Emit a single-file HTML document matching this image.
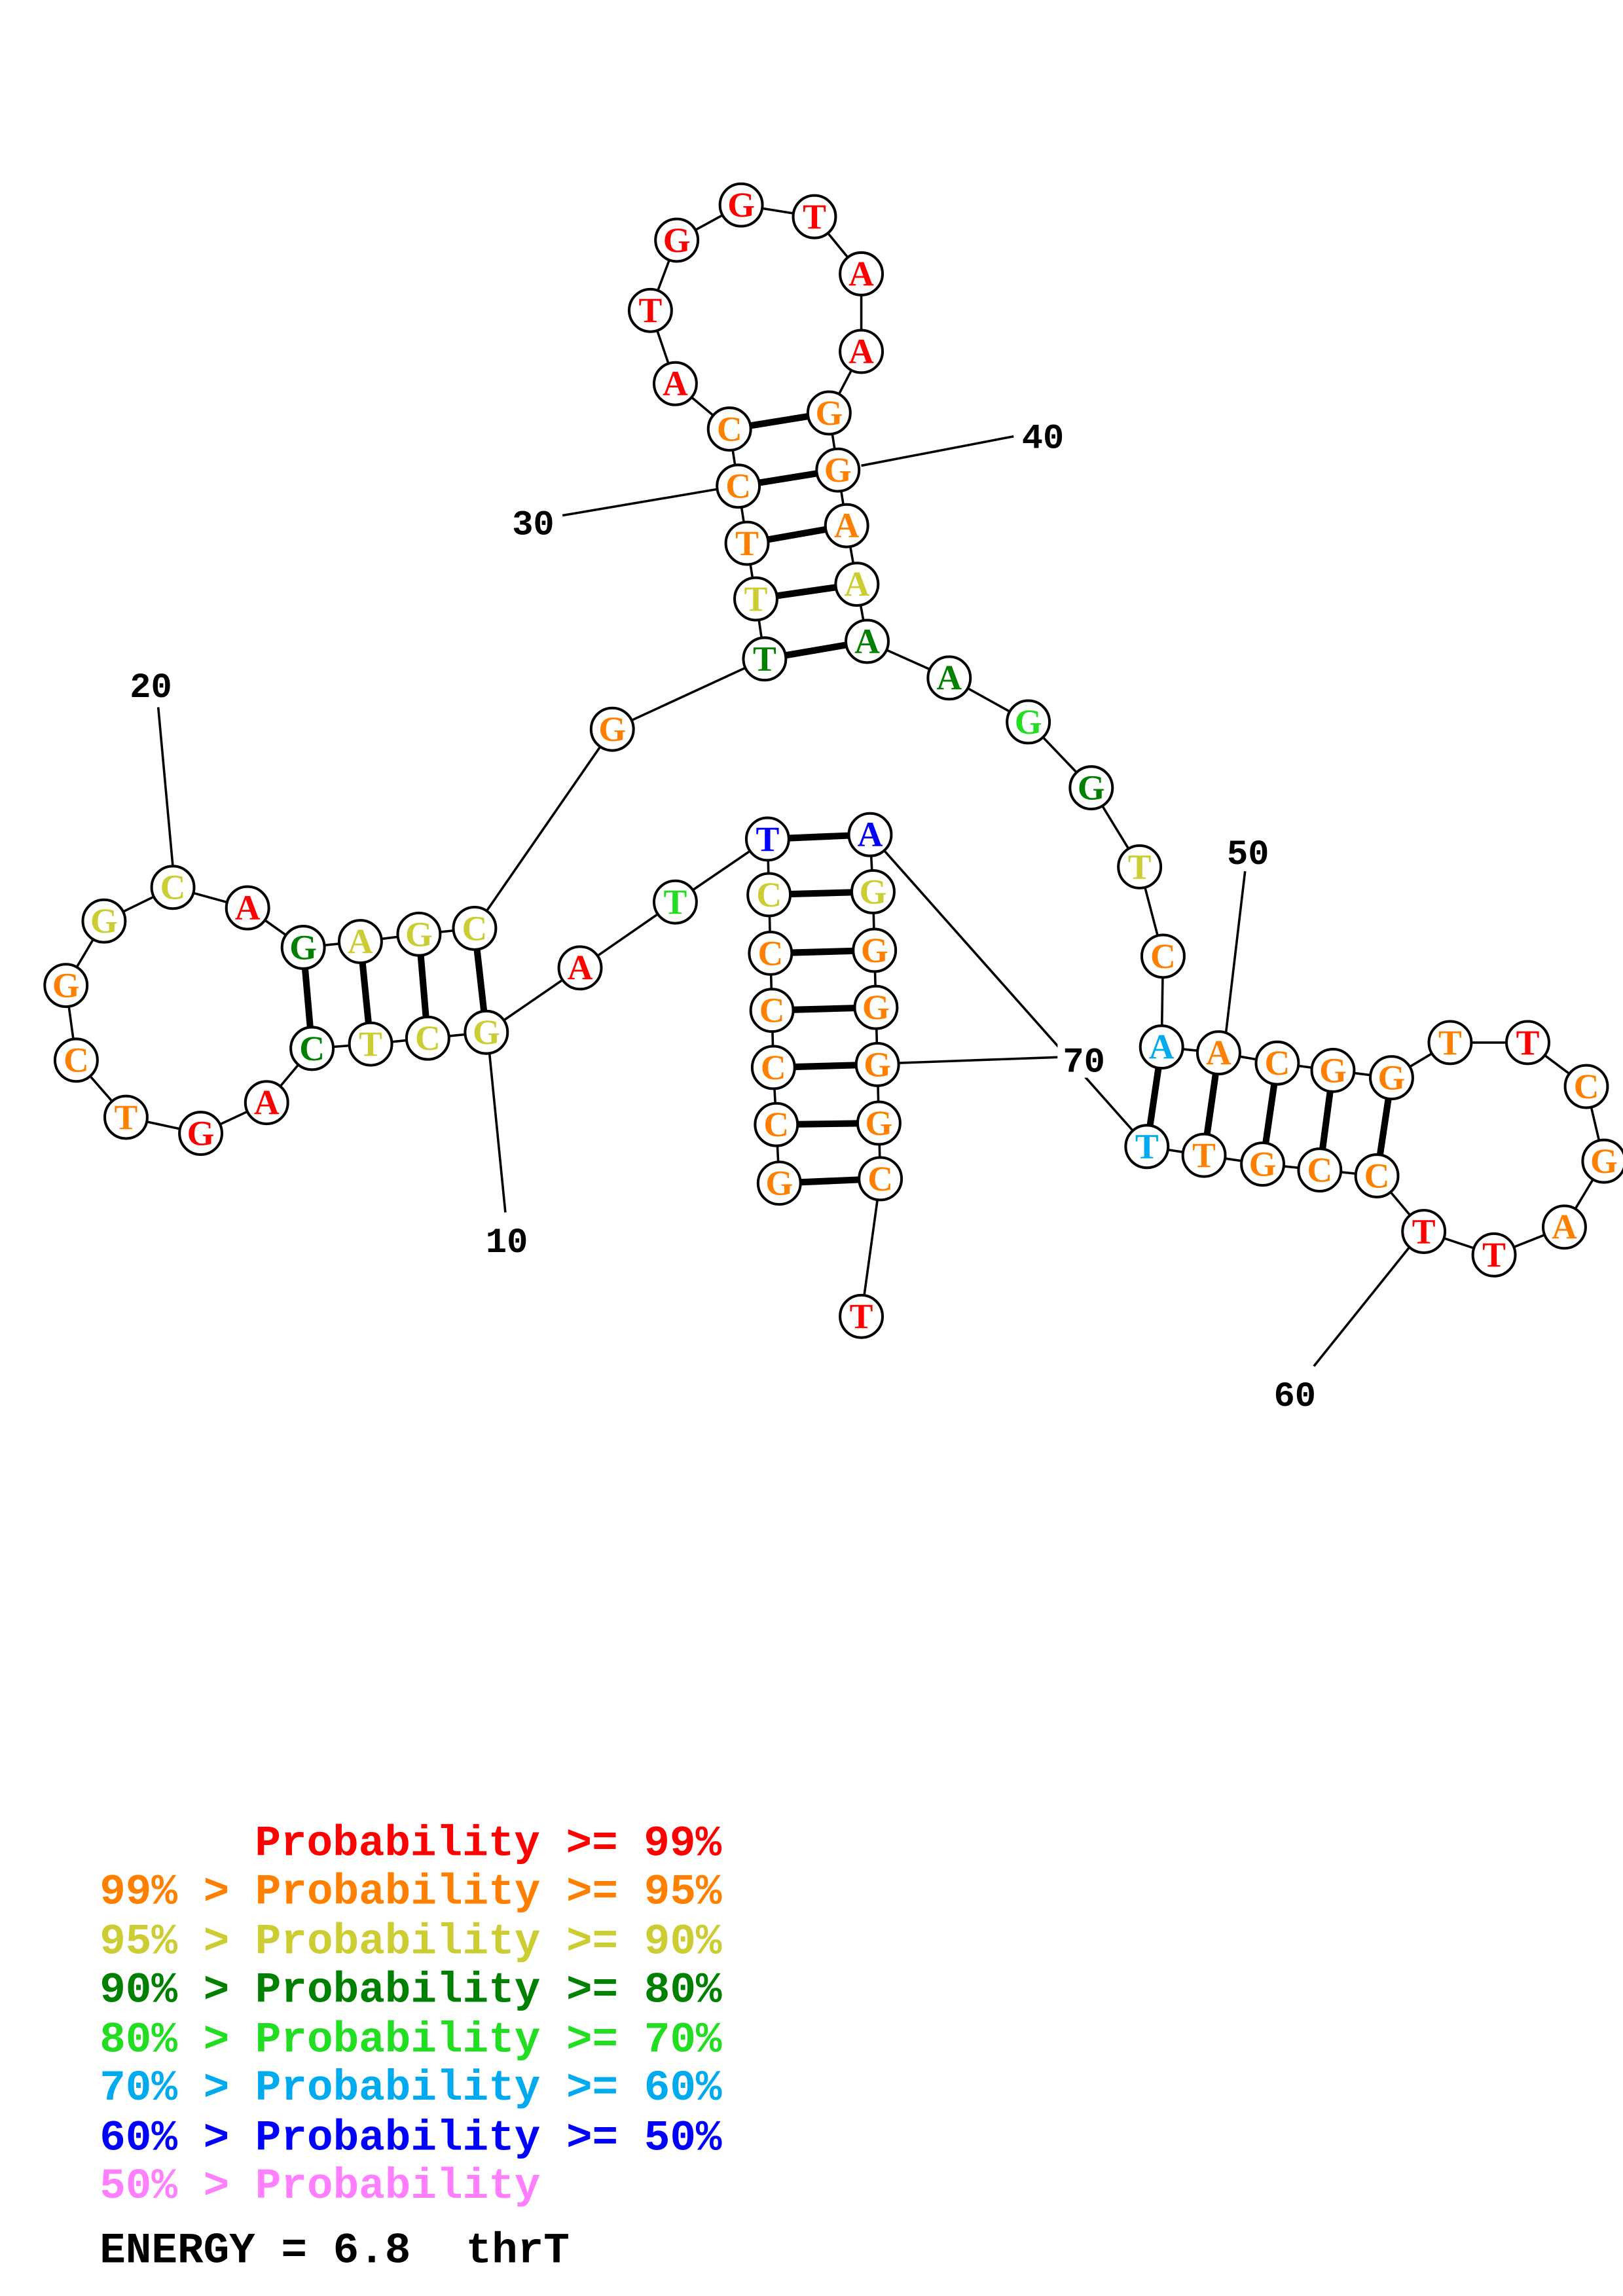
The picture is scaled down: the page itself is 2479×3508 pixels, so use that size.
<!DOCTYPE html>
<html><head><meta charset="utf-8"><style>html,body{margin:0;padding:0;background:#fff}svg{display:block}.pre{white-space:pre}</style></head>
<body>
<svg xmlns="http://www.w3.org/2000/svg" width="2479" height="3508" viewBox="0 0 1108 1568">
<rect width="1108" height="1568" fill="#fff"/>
<g stroke="#000" stroke-width="1.6" fill="none">
<polyline points="532,808 530,768 528,729 527,690 526,651 525,611 524,573 461,616 396,661 332,705 292,709 253,713 213,716 182,753 137,774 86,763 52,724 45,673 71,629 118,606 169,620 207,647 246,643 286,638 324,634 418,498 522,450 516,409 510,371 504,332 498,293 461,262 444,212 462,164 506,140 556,148 588,187 588,240 566,282 572,321 578,359 585,399 592,438 648,463 702,493 745,538 778,592 794,653 793,715 832,719 872,726 910,731 950,736 990,712 1043,712 1083,742 1095,793 1068,838 1020,857 972,841 940,803 901,799 862,795 822,789 783,783 594,570 596,609 597,649 598,688 599,727 600,767 601,805 588,899"/>
<line x1="334" y1="718" x2="345" y2="828"/>
<line x1="108" y1="483" x2="118" y2="592"/>
<line x1="384" y1="352" x2="490" y2="334"/>
<line x1="588" y1="318" x2="692" y2="298"/>
<line x1="850" y1="595" x2="837" y2="705"/>
<line x1="897" y1="933" x2="962" y2="852"/>
<line x1="612" y1="726" x2="722" y2="722"/>
</g>
<g stroke="#000" stroke-width="4.5">
<line x1="207" y1="647" x2="213" y2="716"/><line x1="246" y1="643" x2="253" y2="713"/><line x1="286" y1="638" x2="292" y2="709"/><line x1="324" y1="634" x2="332" y2="705"/>
<line x1="522" y1="450" x2="592" y2="438"/><line x1="516" y1="409" x2="585" y2="399"/><line x1="510" y1="371" x2="578" y2="359"/><line x1="504" y1="332" x2="572" y2="321"/><line x1="498" y1="293" x2="566" y2="282"/>
<line x1="793" y1="715" x2="783" y2="783"/><line x1="832" y1="719" x2="822" y2="789"/><line x1="872" y1="726" x2="862" y2="795"/><line x1="910" y1="731" x2="901" y2="799"/><line x1="950" y1="736" x2="940" y2="803"/>
<line x1="524" y1="573" x2="594" y2="570"/><line x1="525" y1="611" x2="596" y2="609"/><line x1="526" y1="651" x2="597" y2="649"/><line x1="527" y1="690" x2="598" y2="688"/><line x1="528" y1="729" x2="599" y2="727"/><line x1="530" y1="768" x2="600" y2="767"/><line x1="532" y1="808" x2="601" y2="805"/>
</g>
<rect x="722" y="708" width="38" height="28" fill="#fff"/>
<g font-family="Liberation Mono, monospace" font-weight="bold" font-size="24" fill="#000" text-anchor="middle">
<text x="346" y="855">10</text><text x="103" y="476">20</text><text x="364" y="365">30</text><text x="712" y="306">40</text><text x="852" y="590">50</text><text x="884" y="960">60</text><text x="740" y="732">70</text>
</g>
<g font-family="Liberation Serif, serif" font-weight="bold" font-size="24" text-anchor="middle">
<g stroke="#000" stroke-width="1.8" fill="#fff">
<circle cx="207" cy="647" r="14.5"/><circle cx="246" cy="643" r="14.5"/><circle cx="286" cy="638" r="14.5"/><circle cx="324" cy="634" r="14.5"/>
<circle cx="213" cy="716" r="14.5"/><circle cx="253" cy="713" r="14.5"/><circle cx="292" cy="709" r="14.5"/><circle cx="332" cy="705" r="14.5"/>
<circle cx="169" cy="620" r="14.5"/><circle cx="118" cy="606" r="14.5"/><circle cx="71" cy="629" r="14.5"/><circle cx="45" cy="673" r="14.5"/><circle cx="52" cy="724" r="14.5"/><circle cx="86" cy="763" r="14.5"/><circle cx="137" cy="774" r="14.5"/><circle cx="182" cy="753" r="14.5"/>
<circle cx="418" cy="498" r="14.5"/>
<circle cx="522" cy="450" r="14.5"/><circle cx="516" cy="409" r="14.5"/><circle cx="510" cy="371" r="14.5"/><circle cx="504" cy="332" r="14.5"/><circle cx="498" cy="293" r="14.5"/>
<circle cx="592" cy="438" r="14.5"/><circle cx="585" cy="399" r="14.5"/><circle cx="578" cy="359" r="14.5"/><circle cx="572" cy="321" r="14.5"/><circle cx="566" cy="282" r="14.5"/>
<circle cx="461" cy="262" r="14.5"/><circle cx="444" cy="212" r="14.5"/><circle cx="462" cy="164" r="14.5"/><circle cx="506" cy="140" r="14.5"/><circle cx="556" cy="148" r="14.5"/><circle cx="588" cy="187" r="14.5"/><circle cx="588" cy="240" r="14.5"/>
<circle cx="648" cy="463" r="14.5"/><circle cx="702" cy="493" r="14.5"/><circle cx="745" cy="538" r="14.5"/><circle cx="778" cy="592" r="14.5"/><circle cx="794" cy="653" r="14.5"/>
<circle cx="793" cy="715" r="14.5"/><circle cx="832" cy="719" r="14.5"/><circle cx="872" cy="726" r="14.5"/><circle cx="910" cy="731" r="14.5"/><circle cx="950" cy="736" r="14.5"/>
<circle cx="783" cy="783" r="14.5"/><circle cx="822" cy="789" r="14.5"/><circle cx="862" cy="795" r="14.5"/><circle cx="901" cy="799" r="14.5"/><circle cx="940" cy="803" r="14.5"/>
<circle cx="990" cy="712" r="14.5"/><circle cx="1043" cy="712" r="14.5"/><circle cx="1083" cy="742" r="14.5"/><circle cx="1095" cy="793" r="14.5"/><circle cx="1068" cy="838" r="14.5"/><circle cx="1020" cy="857" r="14.5"/><circle cx="972" cy="841" r="14.5"/>
<circle cx="396" cy="661" r="14.5"/><circle cx="461" cy="616" r="14.5"/><circle cx="524" cy="573" r="14.5"/><circle cx="594" cy="570" r="14.5"/>
<circle cx="525" cy="611" r="14.5"/><circle cx="526" cy="651" r="14.5"/><circle cx="527" cy="690" r="14.5"/><circle cx="528" cy="729" r="14.5"/><circle cx="530" cy="768" r="14.5"/><circle cx="532" cy="808" r="14.5"/>
<circle cx="596" cy="609" r="14.5"/><circle cx="597" cy="649" r="14.5"/><circle cx="598" cy="688" r="14.5"/><circle cx="599" cy="727" r="14.5"/><circle cx="600" cy="767" r="14.5"/><circle cx="601" cy="805" r="14.5"/><circle cx="588" cy="899" r="14.5"/>
</g>
<g transform="translate(0,8)">
<text x="207" y="647" fill="#008000">G</text><text x="246" y="643" fill="#cccc33">A</text><text x="286" y="638" fill="#cccc33">G</text><text x="324" y="634" fill="#cccc33">C</text>
<text x="213" y="716" fill="#008000">C</text><text x="253" y="713" fill="#cccc33">T</text><text x="292" y="709" fill="#cccc33">C</text><text x="332" y="705" fill="#cccc33">G</text>
<text x="169" y="620" fill="#ff0000">A</text><text x="118" y="606" fill="#cccc33">C</text><text x="71" y="629" fill="#cccc33">G</text><text x="45" y="673" fill="#ff8000">G</text><text x="52" y="724" fill="#ff8000">C</text><text x="86" y="763" fill="#ff8000">T</text><text x="137" y="774" fill="#ff0000">G</text><text x="182" y="753" fill="#ff0000">A</text>
<text x="418" y="498" fill="#ff8000">G</text>
<text x="522" y="450" fill="#008000">T</text><text x="516" y="409" fill="#cccc33">T</text><text x="510" y="371" fill="#ff8000">T</text><text x="504" y="332" fill="#ff8000">C</text><text x="498" y="293" fill="#ff8000">C</text>
<text x="592" y="438" fill="#008000">A</text><text x="585" y="399" fill="#cccc33">A</text><text x="578" y="359" fill="#ff8000">A</text><text x="572" y="321" fill="#ff8000">G</text><text x="566" y="282" fill="#ff8000">G</text>
<text x="461" y="262" fill="#ff0000">A</text><text x="444" y="212" fill="#ff0000">T</text><text x="462" y="164" fill="#ff0000">G</text><text x="506" y="140" fill="#ff0000">G</text><text x="556" y="148" fill="#ff0000">T</text><text x="588" y="187" fill="#ff0000">A</text><text x="588" y="240" fill="#ff0000">A</text>
<text x="648" y="463" fill="#008000">A</text><text x="702" y="493" fill="#22dd22">G</text><text x="745" y="538" fill="#008000">G</text><text x="778" y="592" fill="#cccc33">T</text><text x="794" y="653" fill="#ff8000">C</text>
<text x="793" y="715" fill="#00aaee">A</text><text x="832" y="719" fill="#ff8000">A</text><text x="872" y="726" fill="#ff8000">C</text><text x="910" y="731" fill="#ff8000">G</text><text x="950" y="736" fill="#ff8000">G</text>
<text x="783" y="783" fill="#00aaee">T</text><text x="822" y="789" fill="#ff8000">T</text><text x="862" y="795" fill="#ff8000">G</text><text x="901" y="799" fill="#ff8000">C</text><text x="940" y="803" fill="#ff8000">C</text>
<text x="990" y="712" fill="#ff8000">T</text><text x="1043" y="712" fill="#ff0000">T</text><text x="1083" y="742" fill="#ff8000">C</text><text x="1095" y="793" fill="#ff8000">G</text><text x="1068" y="838" fill="#ff8000">A</text><text x="1020" y="857" fill="#ff0000">T</text><text x="972" y="841" fill="#ff0000">T</text>
<text x="396" y="661" fill="#ff0000">A</text><text x="461" y="616" fill="#22dd22">T</text><text x="524" y="573" fill="#0000ff">T</text><text x="594" y="570" fill="#0000ff">A</text>
<text x="525" y="611" fill="#cccc33">C</text><text x="526" y="651" fill="#ff8000">C</text><text x="527" y="690" fill="#ff8000">C</text><text x="528" y="729" fill="#ff8000">C</text><text x="530" y="768" fill="#ff8000">C</text><text x="532" y="808" fill="#ff8000">G</text>
<text x="596" y="609" fill="#cccc33">G</text><text x="597" y="649" fill="#ff8000">G</text><text x="598" y="688" fill="#ff8000">G</text><text x="599" y="727" fill="#ff8000">G</text><text x="600" y="767" fill="#ff8000">G</text><text x="601" y="805" fill="#ff8000">C</text><text x="588" y="899" fill="#ff0000">T</text>
</g>
</g>
<g class="pre" font-family="Liberation Mono, monospace" font-weight="bold" font-size="29.5">
<text x="174" y="1267" fill="#ff0000">Probability &gt;= 99%</text>
<text x="68" y="1300" fill="#ff8000">99% &gt; Probability &gt;= 95%</text>
<text x="68" y="1334" fill="#cccc33">95% &gt; Probability &gt;= 90%</text>
<text x="68" y="1367" fill="#008000">90% &gt; Probability &gt;= 80%</text>
<text x="68" y="1401" fill="#22dd22">80% &gt; Probability &gt;= 70%</text>
<text x="68" y="1434" fill="#00aaee">70% &gt; Probability &gt;= 60%</text>
<text x="68" y="1468" fill="#0000ff">60% &gt; Probability &gt;= 50%</text>
<text x="68" y="1501" fill="#ff80ff">50% &gt; Probability</text>
<text x="68" y="1545" fill="#000">ENERGY = 6.8</text>
<text x="318" y="1545" fill="#000">thrT</text>
</g>
</svg>
</body></html>
